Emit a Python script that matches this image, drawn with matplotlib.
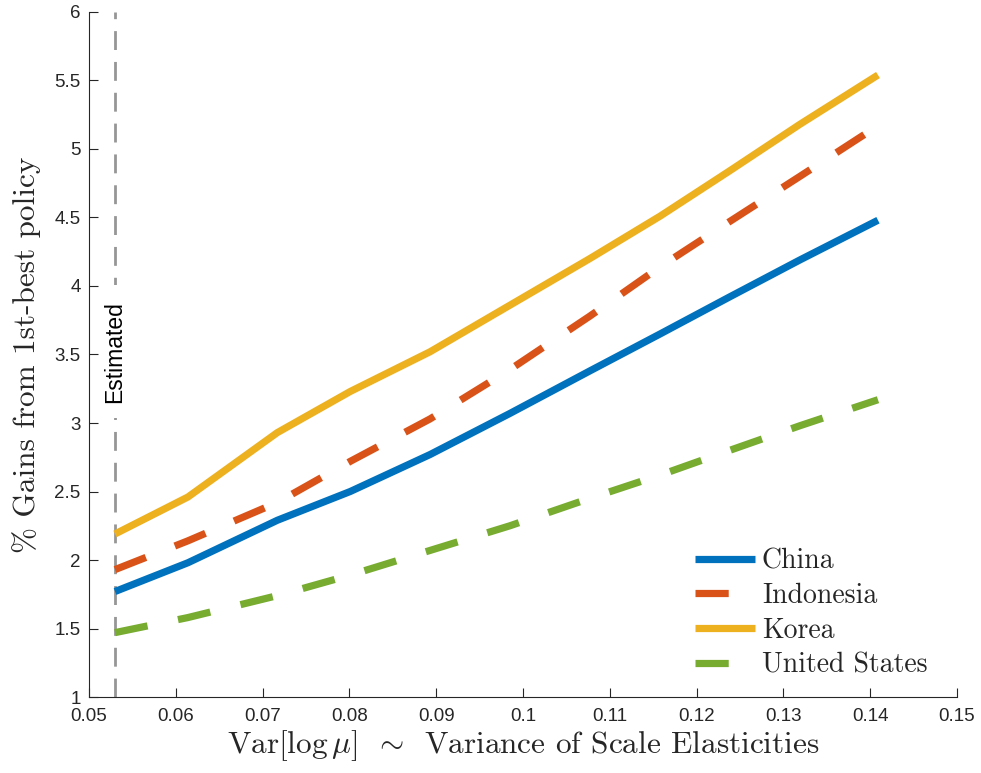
import matplotlib
matplotlib.use("Agg")
import matplotlib.pyplot as plt

# variance of log scale elasticities on the x axis
var_log_mu = [0.0530, 0.0614, 0.0717, 0.0801, 0.0893, 0.0985,
              0.1077, 0.1158, 0.1238, 0.1319, 0.1409]

china = [1.77, 1.98, 2.29, 2.50, 2.77, 3.07, 3.38, 3.65, 3.92, 4.19, 4.48]
indonesia = [1.93, 2.14, 2.42, 2.72, 3.03, 3.39, 3.78, 4.14, 4.47, 4.80, 5.17]
korea = [2.19, 2.46, 2.93, 3.23, 3.52, 3.86, 4.20, 4.51, 4.84, 5.18, 5.54]
usa = [1.47, 1.58, 1.74, 1.89, 2.07, 2.25, 2.45, 2.62, 2.80, 2.98, 3.17]

estimated = 0.0530

xticks = [0.05, 0.06, 0.07, 0.08, 0.09, 0.1, 0.11, 0.12, 0.13, 0.14, 0.15]
xtick_labels = ['0.05', '0.06', '0.07', '0.08', '0.09', '0.1', '0.11', '0.12', '0.13', '0.14', '0.15']
yticks = [1, 1.5, 2, 2.5, 3, 3.5, 4, 4.5, 5, 5.5, 6]
ytick_labels = ['1', '1.5', '2', '2.5', '3', '3.5', '4', '4.5', '5', '5.5', '6']

plt.rcParams['mathtext.fontset'] = 'cm'
plt.rcParams['font.family'] = ['Liberation Sans', 'DejaVu Sans']

axcol = (0.15, 0.15, 0.15)
blue = '#0072BD'
red = '#D95319'
yellow = '#EDB120'
green = '#77AC30'

fig = plt.figure(figsize=(9.81, 7.73), dpi=100)
ax = fig.add_axes([0.0907, 0.0983, 0.8848, 0.8862])

lw = 5.2
dash = (0, (4.6, 4.3))
ax.plot(var_log_mu, china, color=blue, lw=lw, label='China', solid_capstyle='butt')
ax.plot(var_log_mu, indonesia, color=red, lw=lw, ls=dash, label='Indonesia', dash_capstyle='butt')
ax.plot(var_log_mu, korea, color=yellow, lw=lw, label='Korea', solid_capstyle='butt')
ax.plot(var_log_mu, usa, color=green, lw=lw, ls=dash, label='United States', dash_capstyle='butt')

# vertical marker at the estimated variance, text sits in a gap of the line
ax.axvline(estimated, color=(0.59, 0.59, 0.59), lw=2.0, ls=(0, (6.8, 4.3)), zorder=1)
ax.text(estimated, 3.52, 'Estimated', rotation=90, ha='center', va='center',
        fontsize=16.5, color='black',
        bbox=dict(facecolor='white', edgecolor='none', pad=11), zorder=1.5)

ax.set_xlim(0.05, 0.15)
ax.set_ylim(1, 6)
ax.set_xticks(xticks)
ax.set_xticklabels(xtick_labels)
ax.set_yticks(yticks)
ax.set_yticklabels(ytick_labels)

for side in ['top', 'right']:
    ax.spines[side].set_visible(False)
for side in ['left', 'bottom']:
    ax.spines[side].set_color(axcol)
    ax.spines[side].set_linewidth(0.8)
ax.tick_params(direction='in', length=6.5, width=0.8, color=axcol,
               labelcolor=axcol, labelsize=13.5)
ax.tick_params(axis='x', pad=8)
ax.tick_params(axis='y', pad=6)

ax.set_xlabel(r'Var[log$\,\mu$] $\,\sim\,$ Variance of Scale Elasticities',
              family='cmr10', fontsize=22.5, color=axcol, labelpad=2)
ax.set_ylabel('% Gains from 1st-best policy', family='cmr10', fontsize=22.5,
              color=axcol)
ax.yaxis.set_label_coords(-0.055, 0.5)

leg = ax.legend(loc='upper left', bbox_to_anchor=(0.698, 0.2176), frameon=False,
                prop={'family': 'cmr10', 'size': 20}, handlelength=2.16,
                handletextpad=0.25, labelspacing=0.30, borderpad=0,
                borderaxespad=0)
for t in leg.get_texts():
    t.set_color(axcol)

fig.savefig('out.png', dpi=100)
